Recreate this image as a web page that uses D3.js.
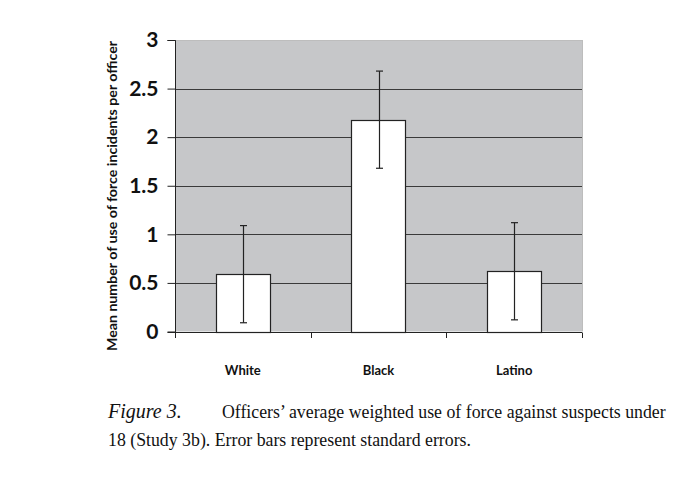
<!DOCTYPE html>
<html>
<head>
<meta charset="utf-8">
<script src="https://cdn.jsdelivr.net/npm/d3@7"></script>
<style>
  body { margin: 0; background: #fff; }
  svg { display: block; }
</style>
</head>
<body>
<svg id="chart" width="682" height="481"></svg>
<script>
const categories = ["White", "Black", "Latino"];
const means = [0.59, 2.18, 0.62];
const stdErrors = [0.50, 0.50, 0.50];
const yTicks = [0, 0.5, 1, 1.5, 2, 2.5, 3];
const yTickLabels = ["0", "0.5", "1", "1.5", "2", "2.5", "3"];
const yTitle = "Mean number of use of force incidents per officer";
const captionLine1Italic = "Figure 3.";
const captionLine1 = "Officers’ average weighted use of force against suspects under";
const captionLine2 = "18 (Study 3b). Error bars represent standard errors.";

const svg = d3.select("#chart");
const x0 = 175, x1 = 582, yTop = 40, yBot = 331.5;

const x = d3.scaleBand().domain(categories).range([x0, x1]).paddingInner(0.6).paddingOuter(0.3);
const y = d3.scaleLinear().domain([0, 3]).range([yBot, yTop]);

// plot background
svg.append("rect").attr("x", x0).attr("y", yTop).attr("width", x1 - x0).attr("height", yBot - yTop)
  .attr("fill", "#c6c7c9");

// gridlines
svg.append("g").selectAll("line").data(yTicks.filter(d => d > 0)).join("line")
  .attr("x1", x0).attr("x2", x1)
  .attr("y1", d => Math.round(y(d)) + 0.5).attr("y2", d => Math.round(y(d)) + 0.5)
  .attr("stroke", d => d === 3 ? "#bdbdbd" : "#3a3a3a").attr("stroke-width", 1);

// right edge light line
svg.append("line").attr("x1", x1 + 0.5).attr("x2", x1 + 0.5).attr("y1", yTop).attr("y2", yBot)
  .attr("stroke", "#bdbdbd");

// y axis
const yAxis = d3.axisLeft(y).tickValues(yTicks).tickFormat((d, i) => yTickLabels[i]).tickSize(8).tickPadding(9);
const gy = svg.append("g").attr("transform", `translate(${x0 + 0.5},0)`).call(yAxis);
gy.select(".domain").attr("stroke", "#222").attr("d", `M-8,${Math.round(yTop)+0.5}H0V${Math.round(yBot)+0.5}H-8`);
gy.selectAll(".tick line").attr("stroke", "#222");
gy.selectAll(".tick text").attr("font-family", "Lato, 'Open Sans', sans-serif").attr("font-weight", "bold")
  .attr("font-size", 21).attr("fill", "#111");

// x axis baseline and ticks at band boundaries
const boundaries = [x0, ...categories.slice(1).map(c => x(c) - x.step() * x.paddingInner() / 2), x1];
svg.append("line").attr("x1", x0).attr("x2", x1).attr("y1", Math.round(yBot) + 0.5).attr("y2", Math.round(yBot) + 0.5)
  .attr("stroke", "#222");
svg.append("g").selectAll("line").data(boundaries).join("line")
  .attr("x1", d => Math.round(d) + 0.5).attr("x2", d => Math.round(d) + 0.5)
  .attr("y1", Math.round(yBot) + 0.5).attr("y2", Math.round(yBot) + 6)
  .attr("stroke", "#222");

// bars
svg.append("g").selectAll("rect").data(categories).join("rect")
  .attr("x", d => Math.round(x(d)) + 0.5)
  .attr("y", (d, i) => Math.round(y(means[i])) + 0.5)
  .attr("width", Math.round(x.bandwidth()))
  .attr("height", (d, i) => Math.round(yBot) - Math.round(y(means[i])))
  .attr("fill", "#fff").attr("stroke", "#222").attr("stroke-width", 1.2);

// error bars
const eg = svg.append("g").attr("stroke", "#222").attr("stroke-width", 1.2);
categories.forEach((c, i) => {
  const cx = Math.round(x(c) + x.bandwidth() / 2) + 0.5;
  const hi = y(means[i] + stdErrors[i]), lo = y(means[i] - stdErrors[i]);
  eg.append("line").attr("x1", cx).attr("x2", cx).attr("y1", hi).attr("y2", lo);
  eg.append("line").attr("x1", cx - 3.5).attr("x2", cx + 3.5).attr("y1", hi).attr("y2", hi);
  eg.append("line").attr("x1", cx - 3.5).attr("x2", cx + 3.5).attr("y1", lo).attr("y2", lo);
});

// x labels
svg.append("g").selectAll("text").data(categories).join("text")
  .attr("x", d => x(d) + x.bandwidth() / 2).attr("y", 375)
  .attr("text-anchor", "middle")
  .attr("font-family", "Lato, 'Open Sans', sans-serif").attr("font-weight", "bold").attr("font-size", 13)
  .attr("fill", "#111").text(d => d);

// y title
svg.append("text").attr("transform", `translate(117,196) rotate(-90)`)
  .attr("text-anchor", "middle")
  .attr("font-family", "Lato, 'Open Sans', sans-serif").attr("font-weight", "bold").attr("font-size", 13.5)
  .attr("textLength", 310).attr("lengthAdjust", "spacingAndGlyphs")
  .attr("fill", "#111").text(yTitle);

// caption
const cap = svg.append("g").attr("font-family", "'Liberation Serif', 'Times New Roman', serif")
  .attr("font-size", 17.8).attr("fill", "#111");
cap.append("text").attr("x", 108).attr("y", 418).attr("font-style", "italic")
  .attr("font-size", 20).text(captionLine1Italic);
cap.append("text").attr("x", 222).attr("y", 418).text(captionLine1);
cap.append("text").attr("x", 108).attr("y", 446).text(captionLine2);
</script>
</body>
</html>
